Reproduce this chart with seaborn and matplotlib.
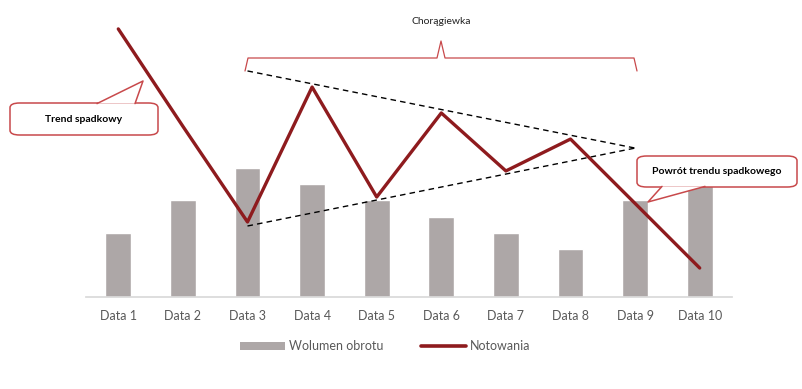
import numpy as np
import pandas as pd
import seaborn as sns
import matplotlib.pyplot as plt
from matplotlib.patches import Patch, FancyBboxPatch, Polygon
from matplotlib.lines import Line2D

# Data
dates = ['Data 1', 'Data 2', 'Data 3', 'Data 4', 'Data 5',
         'Data 6', 'Data 7', 'Data 8', 'Data 9', 'Data 10']
wolumen = [4, 6, 8, 7, 6, 5, 4, 3, 6, 8]
notowania = [16.65, 10.6, 4.66, 13.04, 6.21, 11.43, 7.83, 9.81, 5.81, 1.8]

# flag (chorągiewka) boundaries: from Data 3 to Data 9
flag_x = [2, 8]
flag_upper = [14.04, 9.25]
flag_lower = [4.41, 9.25]

bar_color = '#ADA7A7'
line_color = '#8E1B1E'
callout_color = '#C8494B'

sns.set_theme(style='white')
plt.rcParams['font.family'] = ['Lato', 'DejaVu Sans']

W, H = 803, 389
fig = plt.figure(figsize=(W / 100, H / 100), dpi=100)
ax = fig.add_axes([86 / W, 1 - 297 / H, (732 - 86) / W, 297 / H])

df = pd.DataFrame({'date': dates, 'wolumen': wolumen, 'notowania': notowania})
df['pos'] = np.arange(len(df))

sns.barplot(data=df, x='date', y='wolumen', color=bar_color, width=0.4,
            saturation=1, ax=ax, zorder=2)
sns.lineplot(data=df, x='pos', y='notowania', color=line_color, linewidth=2.4,
             ax=ax, zorder=4)

ax.plot(flag_x, flag_upper, color='black', linestyle=(0, (4, 3)), linewidth=1, zorder=3)
ax.plot(flag_x, flag_lower, color='black', linestyle=(0, (4, 3)), linewidth=1, zorder=3)

ax.set_xlim(-0.5, 9.5)
ax.set_ylim(0, 297 / 16.1)
ax.set_xlabel('')
ax.set_ylabel('')
ax.set_yticks([])
for s in ['top', 'right', 'left']:
    ax.spines[s].set_visible(False)
ax.spines['bottom'].set_color('#D9D9D9')
ax.tick_params(axis='x', length=0, pad=9, labelsize=9, labelcolor='#595959')


def px(x, y):
    return (x / W, 1 - y / H)


# bracket above the flag
bx = [245, 248, 437, 441, 445, 634, 637]
by = [71, 58, 58, 41, 58, 58, 71]
fig.lines.append(Line2D([x / W for x in bx], [1 - y / H for y in by],
                        color=callout_color, linewidth=0.9, transform=fig.transFigure))
fig.text(*px(441, 22), 'Chorągiewka', ha='center', va='center', fontsize=7.5,
         color='#222222')


def callout(x0, y0, x1, y1, tri, text):
    box = FancyBboxPatch(px(x0, y1), (x1 - x0) / W, (y1 - y0) / H,
                         boxstyle='round,pad=0,rounding_size=0.012',
                         transform=fig.transFigure, facecolor='white',
                         edgecolor=callout_color, linewidth=1.1, zorder=5)
    fig.patches.append(box)
    pts = [px(*p) for p in tri]
    fig.patches.append(Polygon(pts, closed=True, transform=fig.transFigure,
                               facecolor='white', edgecolor='none', zorder=6))
    fig.lines.append(Line2D([pts[0][0], pts[1][0], pts[2][0]],
                            [pts[0][1], pts[1][1], pts[2][1]],
                            color=callout_color, linewidth=1.1,
                            transform=fig.transFigure, zorder=7))
    fig.text(*px((x0 + x1) / 2, (y0 + y1) / 2), text, ha='center', va='center',
             fontsize=7.5, fontweight='bold', color='black', zorder=8)


callout(10, 103, 158, 135, [(97, 103.6), (143, 81), (135, 103.6)], 'Trend spadkowy')
callout(637, 156, 797, 187, [(662, 186.4), (648, 202), (705, 186.4)],
        'Powrót trendu spadkowego')

handles = [Patch(facecolor=bar_color, edgecolor='none', label='Wolumen obrotu'),
           Line2D([0], [0], color=line_color, linewidth=2.6, label='Notowania')]
fig.legend(handles=handles, loc='center', bbox_to_anchor=(385 / W, 1 - 346 / H),
           ncol=2, frameon=False, fontsize=9, handlelength=3.6, handleheight=0.6,
           handletextpad=0.3, columnspacing=3.0, labelcolor='#595959')

plt.savefig('out.png', dpi=100)
